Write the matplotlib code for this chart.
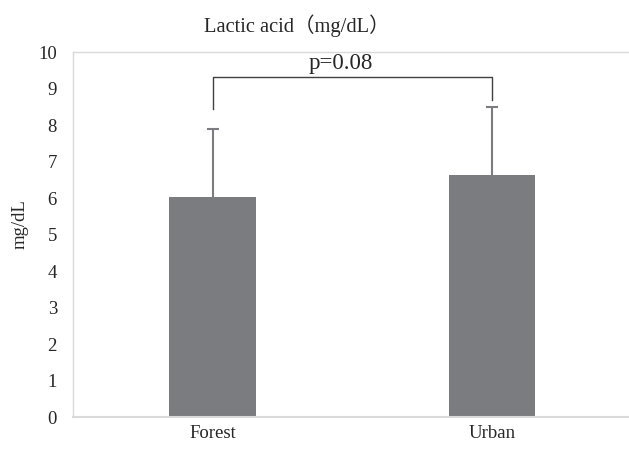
import matplotlib.pyplot as plt

groups = ["Forest", "Urban"]
means = [6.03, 6.63]
sds = [1.85, 1.86]
p_label = "p=0.08"
bracket_top = 9.31
bracket_feet = [8.44, 8.68]

SERIF = ["Liberation Serif", "Noto Sans CJK JP"]
plt.rcParams["font.family"] = SERIF

fig = plt.figure(figsize=(6.29, 4.5), dpi=100)
ax = fig.add_axes([0.116, 0.0733, 0.888, 0.811])

x = list(range(len(groups)))
ax.bar(x, means, width=0.31, color="#7b7c80", zorder=2)
_, caps, _ = ax.errorbar(x, means, yerr=[[0, 0], sds], fmt="none", ecolor="#7b7c80",
                         elinewidth=1.5, capsize=4, capthick=1.5, zorder=3)
caps[0].set_visible(False)  # no cap at the bar top

# significance bracket
ax.plot([x[0], x[0], x[1], x[1]],
        [bracket_feet[0], bracket_top, bracket_top, bracket_feet[1]],
        color="#404040", linewidth=1, zorder=3)
ax.text(0.458, bracket_top + 0.1, p_label, ha="center", va="bottom",
        fontsize=16.5, color="#262626", zorder=1)

ax.set_xlim(-0.5, 1.5)
ax.set_ylim(0, 10)
ax.set_yticks(range(0, 11))
ax.set_xticks(x)
ax.set_xticklabels(groups)
ax.tick_params(axis="both", length=0, labelsize=13.5, colors="#262626")
ax.tick_params(axis="y", pad=11.5)
ax.tick_params(axis="x", pad=6)

for s in ax.spines.values():
    s.set_color("#d9d9d9")
    s.set_linewidth(1)
ax.spines["bottom"].set_linewidth(1.5)

ax.set_ylabel("mg/dL", fontsize=13.5, color="#262626")
ax.yaxis.set_label_coords(-0.08, 0.53)

fig.text(296.5 / 629, 1 - 26 / 450, "Lactic acid（mg/dL）", ha="center",
         va="center", fontsize=14.8, color="#262626")

fig.savefig("out.png", dpi=100)
